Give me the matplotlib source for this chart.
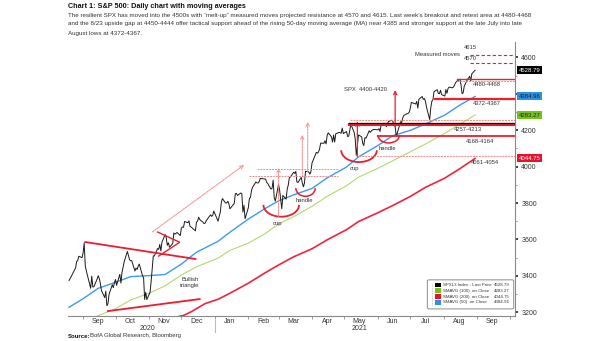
import pandas as pd
import matplotlib
matplotlib.use("Agg")
import matplotlib.pyplot as plt
import matplotlib.dates as mdates
from matplotlib.patches import Arc, FancyBboxPatch, Rectangle
from matplotlib import font_manager
from matplotlib.ticker import MultipleLocator, FuncFormatter

# ---------------- data ----------------
close_2020_08 = [3374.85, 3385.51, 3397.16, 3431.28, 3443.62, 3478.73, 3484.55, 3508.01, 3500.31]
close_2020_09 = [3526.65, 3580.84, 3455.06, 3426.96, 3331.84, 3398.96, 3339.19, 3340.97, 3383.54, 3401.20,
                 3385.49, 3357.01, 3319.47, 3281.06, 3315.57, 3236.92, 3246.59, 3298.46, 3351.60, 3335.47, 3363.00]
close_2020_10 = [3380.80, 3348.42, 3408.60, 3360.97, 3419.44, 3446.83, 3477.14, 3534.22, 3511.93, 3488.67,
                 3483.34, 3483.81, 3426.92, 3443.12, 3435.56, 3453.49, 3465.39, 3400.97, 3390.68, 3271.03,
                 3310.11, 3269.96]
close_2020_11 = [3310.24, 3369.16, 3443.44, 3510.45, 3509.44, 3550.50, 3545.53, 3572.66, 3537.01, 3585.15,
                 3626.91, 3609.53, 3567.79, 3581.87, 3557.54, 3577.59, 3635.41, 3629.65, 3638.35, 3621.63]
close_2020_12 = [3662.45, 3669.01, 3666.72, 3699.12, 3691.96, 3702.25, 3672.82, 3668.10, 3663.46, 3647.49,
                 3694.62, 3701.17, 3722.48, 3709.41, 3694.92, 3687.26, 3690.01, 3703.06, 3735.36, 3727.04,
                 3732.04, 3756.07]
close_2021_01 = [3700.65, 3726.86, 3748.14, 3803.79, 3824.68, 3799.61, 3801.19, 3809.84, 3795.54, 3768.25,
                 3798.91, 3851.85, 3853.07, 3841.47, 3855.36, 3849.62, 3750.77, 3787.38, 3714.24]
close_2021_02 = [3773.86, 3826.31, 3830.17, 3871.74, 3886.83, 3915.59, 3911.23, 3909.88, 3916.38, 3934.83,
                 3932.59, 3931.33, 3913.97, 3906.71, 3876.50, 3881.37, 3925.43, 3829.34, 3811.15]
close_2021_03 = [3901.82, 3870.29, 3819.72, 3768.47, 3841.94, 3821.35, 3875.44, 3898.81, 3939.34, 3943.34,
                 3968.94, 3962.71, 3974.12, 3915.46, 3913.10, 3940.59, 3910.52, 3889.14, 3909.52, 3974.54,
                 3971.09, 3958.55, 3972.89]
close_2021_04 = [4019.87, 4077.91, 4073.94, 4079.95, 4097.17, 4128.80, 4127.99, 4141.59, 4124.66, 4170.42,
                 4185.47, 4163.26, 4134.94, 4173.42, 4134.98, 4180.17, 4187.62, 4186.72, 4183.18, 4211.47,
                 4181.17]
close_2021_05 = [4192.66, 4164.66, 4167.59, 4201.62, 4232.60, 4188.43, 4152.10, 4063.04, 4112.50, 4173.85,
                 4163.29, 4127.83, 4115.68, 4159.12, 4155.86, 4197.05, 4188.13, 4195.99, 4200.88, 4204.11]
close_2021_06 = [4202.04, 4208.12, 4192.85, 4229.89, 4226.52, 4227.26, 4219.55, 4239.18, 4247.44, 4255.15,
                 4246.59, 4223.70, 4221.86, 4166.45, 4224.79, 4246.44, 4241.84, 4266.49, 4280.70, 4290.61,
                 4291.80, 4297.50]
close_2021_07 = [4319.94, 4352.34, 4343.54, 4358.13, 4320.82, 4369.55, 4384.63, 4369.21, 4374.30, 4360.03,
                 4327.16, 4258.49, 4323.06, 4358.69, 4367.48, 4411.79, 4422.30, 4401.46, 4400.64, 4419.15,
                 4395.26]
close_2021_08 = [4387.16, 4423.15, 4402.66, 4429.10, 4436.52, 4432.35, 4436.75, 4447.70, 4460.83, 4468.00,
                 4479.71, 4448.08, 4400.27, 4405.80, 4441.67, 4479.53, 4486.23, 4496.19, 4470.00, 4509.37,
                 4528.79]

market_holidays = ["2020-09-07", "2020-11-26", "2020-12-25", "2021-01-01", "2021-01-18",
                   "2021-02-15", "2021-04-02", "2021-05-31", "2021-07-05"]

ma50_dates = ["2020-08-19", "2020-09-01", "2020-09-15", "2020-10-01", "2020-10-15", "2020-11-02",
              "2020-11-16", "2020-12-01", "2020-12-15", "2021-01-04", "2021-01-15", "2021-02-01",
              "2021-02-16", "2021-03-01", "2021-03-15", "2021-04-01", "2021-04-15", "2021-05-03",
              "2021-05-14", "2021-06-01", "2021-06-15", "2021-07-01", "2021-07-15", "2021-08-02",
              "2021-08-16", "2021-08-30"]
ma50_values = [3228, 3275, 3332, 3365, 3396, 3402, 3408, 3465, 3530, 3590, 3640, 3712, 3768, 3812,
               3845, 3880, 3938, 3998, 4053, 4116, 4170, 4199, 4234, 4283, 4338, 4384.96]

ma100_dates = ["2020-08-19", "2020-09-01", "2020-09-15", "2020-10-01", "2020-10-15", "2020-11-02",
               "2020-11-16", "2020-12-01", "2020-12-15", "2021-01-04", "2021-01-15", "2021-02-01",
               "2021-02-16", "2021-03-01", "2021-03-15", "2021-04-01", "2021-04-15", "2021-05-03",
               "2021-05-14", "2021-06-01", "2021-06-15", "2021-07-01", "2021-07-15", "2021-08-02",
               "2021-08-16", "2021-08-30"]
ma100_values = [3115, 3150, 3182, 3220, 3268, 3307, 3346, 3405, 3450, 3498, 3540, 3580, 3630, 3685,
                3725, 3782, 3837, 3895, 3942, 3991, 4033, 4081, 4124, 4183, 4233, 4283.27]

ma200_dates = ["2020-11-16", "2020-12-03", "2020-12-10", "2020-12-23", "2021-01-04", "2021-01-15",
               "2021-02-01", "2021-02-16", "2021-03-01", "2021-03-15", "2021-04-01", "2021-04-15",
               "2021-05-03", "2021-05-14", "2021-06-01", "2021-06-15", "2021-07-01", "2021-07-15",
               "2021-08-02", "2021-08-16", "2021-08-30"]
ma200_values = [3160, 3183, 3203, 3248, 3272, 3305, 3360, 3415, 3460, 3505, 3549, 3598, 3654, 3698,
                3747, 3787, 3836, 3886, 3937, 3989, 4044.75]

last_price = 4528.79
ma50_last, ma100_last, ma200_last = 4384.96, 4283.27, 4044.75

# ---------------- style ----------------
installed = {f.name for f in font_manager.fontManager.ttflist}
NARROW = "Liberation Sans Narrow" if "Liberation Sans Narrow" in installed else "Liberation Sans"
plt.rcParams["font.family"] = [NARROW, "DejaVu Sans"]

RED = "#ee1c2e"
PINK = "#f48a8a"
BLUE = "#3d9be9"
GREEN = "#b2d96c"
MA200 = "#f0243c"
GREY = "#8a8a8a"
TXT = "#333333"

closes = (close_2020_08 + close_2020_09 + close_2020_10 + close_2020_11 + close_2020_12 +
          close_2021_01 + close_2021_02 + close_2021_03 + close_2021_04 + close_2021_05 +
          close_2021_06 + close_2021_07 + close_2021_08)
bday = pd.offsets.CustomBusinessDay(holidays=market_holidays)
trade_dates = pd.date_range("2020-08-19", "2021-08-30", freq=bday)
n = min(len(trade_dates), len(closes))

fig = plt.figure(figsize=(6.05, 3.41), dpi=100)
ax = fig.add_axes([68 / 605, 25 / 341, 447 / 605, 274 / 341])

D = lambda s: pd.Timestamp(s)
N = lambda s: mdates.date2num(pd.Timestamp(s))

# moving averages and price
ax.plot(pd.to_datetime(ma200_dates), ma200_values, color=MA200, lw=1.2, zorder=2)
ax.plot(pd.to_datetime(ma100_dates), ma100_values, color=GREEN, lw=0.8, zorder=2)
ax.plot(pd.to_datetime(ma50_dates), ma50_values, color=BLUE, lw=1.0, zorder=2)
ax.plot(trade_dates[:n], closes[:n], color="#1a1a1a", lw=0.7, zorder=3)

RIGHT = D("2021-10-06")

def hline(y, start, ls="-", lw=1.0, color=RED, z=4):
    ax.plot([D(start), RIGHT], [y, y], color=color, lw=lw, ls=ls, zorder=z)

def seg(x0, y0, x1, y1, color=RED, lw=1.3, ls="-"):
    ax.plot([D(x0), D(x1)], [y0, y1], color=color, lw=lw, ls=ls, zorder=4)

def arrow(x, y0, y1, color=RED, lw=0.8, ls="-"):
    ax.annotate("", xy=(D(x), y1), xytext=(D(x), y0),
                arrowprops=dict(arrowstyle="->", color=color, lw=lw, ls=ls,
                                shrinkA=0, shrinkB=0, mutation_scale=6), zorder=4)

def arc(x0, x1, y, depth, lw=1.3):
    c = (N(x0) + N(x1)) / 2
    ax.add_patch(Arc((c, y), N(x1) - N(x0), 2 * depth, theta1=180, theta2=360,
                     color=RED, lw=lw, zorder=4))

def note(x, y, s, ha="center"):
    ax.text(D(x), y, s, fontsize=4.2, color=TXT, ha=ha, va="center", zorder=5)

# bullish triangle
seg("2020-09-03", 3586, "2020-12-14", 3493)
seg("2020-09-24", 3207, "2020-12-18", 3273)
note("2020-12-09", 3378, "Bullish")
note("2020-12-09", 3345, "triangle")

# pennant
seg("2020-11-09", 3641, "2020-11-29", 3586, lw=1.0)
seg("2020-11-10", 3509, "2020-11-29", 3583, lw=1.0)

# trend channel arrow
ax.annotate("", xy=(D("2021-01-28"), 4009), xytext=(D("2020-11-04"), 3641),
            arrowprops=dict(arrowstyle="->", color=PINK, lw=0.7, ls=(0, (2, 1)),
                            shrinkA=0, shrinkB=0, mutation_scale=6), zorder=4)

# first cup and handle
arc("2021-02-15", "2021-03-20", 3790, 65)
arc("2021-03-17", "2021-04-04", 3882, 45, lw=1.1)
note("2021-02-28", 3690, "cup")
note("2021-03-25", 3812, "handle")
seg("2021-02-09", 3985, "2021-04-25", 3985, color=PINK, lw=0.7, ls=(0, (2, 1)))
seg("2021-02-02", 3950, "2021-04-25", 3950, color=PINK, lw=0.7, ls=(0, (2, 1)))
arrow("2021-03-01", 3725, 3992, color=PINK, lw=0.7, ls=(0, (2, 1)))
arrow("2021-03-23", 3943, 4174, color=PINK, lw=0.7, ls=(0, (2, 1)))
arrow("2021-03-28", 3970, 4245, color=PINK, lw=0.7, ls=(0, (2, 1)))

# second cup and handle
arc("2021-04-28", "2021-05-31", 4090, 65)
arc("2021-06-01", "2021-06-21", 4173, 43, lw=1.1)
note("2021-05-10", 3992, "cup")
note("2021-06-10", 4102, "handle")
hline(4256, "2021-05-06", ls=(0, (2, 1)), lw=0.7, color=PINK)
hline(4236, "2021-05-05", lw=2.2)
hline(4241, "2021-05-05", lw=0.9, color="#111111", z=5)
hline(4166, "2021-06-01", lw=1.3)
hline(4058, "2021-05-12", ls=(0, (2, 1)), lw=0.7, color=PINK)
arrow("2021-05-13", 4058, 4248, lw=0.9)
arrow("2021-06-17", 4240, 4420, lw=0.9)
note("2021-05-21", 4426, "SPX  4400-4420")

# recent support / resistance
hline(4370, "2021-07-24", lw=1.6)
hline(4480, "2021-08-13", lw=1.0)
hline(4468, "2021-08-13", ls=(0, (2, 1)), lw=0.7, color=PINK)
hline(4615, "2021-08-25", ls=(0, (3, 2)), lw=0.8)
hline(4570, "2021-08-25", ls=(0, (3, 2)), lw=0.8)
note("2021-07-26", 4613, "Measured moves")
note("2021-08-26", 4652, "4615")
note("2021-08-26", 4592, "4570")
note("2021-09-10", 4448, "4480-4468")
note("2021-09-10", 4349, "4372-4367")
note("2021-08-23", 4206, "4257-4213")
note("2021-09-04", 4140, "4168-4164")
note("2021-09-08", 4025, "4061-4054")

# ---------------- axes ----------------
ax.set_xlim(D("2020-08-18"), RIGHT)
ax.set_ylim(3180, 4684)
for side in ("top", "left"):
    ax.spines[side].set_visible(False)
ax.spines["right"].set_color(GREY)
ax.spines["right"].set_linewidth(0.8)
ax.spines["bottom"].set_color(GREY)
ax.spines["bottom"].set_linewidth(0.8)

# the 4400 label sits under the 50-day tag, so it is left blank
ax.yaxis.tick_right()
ax.yaxis.set_major_locator(MultipleLocator(200))
ax.yaxis.set_minor_locator(MultipleLocator(100))
ax.yaxis.set_major_formatter(FuncFormatter(lambda v, p: "" if round(v) == 4400 else f"{v:.0f}"))
ax.tick_params(axis="y", which="major", length=2.5, width=1.2, colors="#222222",
               labelsize=5, pad=2, labelcolor=TXT)
ax.tick_params(axis="y", which="minor", length=1.5, width=0.6, colors=GREY)

ax.xaxis.set_major_locator(mdates.MonthLocator(bymonthday=15))
ax.xaxis.set_major_formatter(mdates.DateFormatter("%b"))
ax.xaxis.set_minor_locator(mdates.MonthLocator())
ax.tick_params(axis="x", which="major", length=0, labelsize=5, pad=1.5, labelcolor=TXT)
ax.tick_params(axis="x", which="minor", length=2, width=0.6, colors=GREY)

xtr = ax.get_xaxis_transform()
ax.text(D("2020-10-31"), -0.046, "2020", transform=xtr, fontsize=5, ha="center", va="center", color=TXT)
ax.text(D("2021-05-15"), -0.046, "2021", transform=xtr, fontsize=5, ha="center", va="center", color=TXT)
ax.plot([D("2021-01-01")] * 2, [-0.015, -0.06], transform=xtr, color="#bbbbbb", lw=0.8, clip_on=False)

# value tags on the right axis
ytr = ax.get_yaxis_transform()
for val, face, fg in [(last_price, "#000000", "white"), (ma50_last, "#2f8fe0", "#10243a"),
                      (ma100_last, "#76c21d", "#1d2b0a"), (ma200_last, "#e8102a", "white")]:
    ax.text(1.008, val, f"{val:.2f}", transform=ytr, fontsize=4.3, color=fg, ha="left", va="center",
            bbox=dict(boxstyle="square,pad=0.25", fc=face, ec="none"), zorder=6, clip_on=False)

# legend panel
lx0, lx1, ly0, ly1 = 0.808, 0.993, 0.03, 0.128
ax.add_patch(FancyBboxPatch((lx0, ly0), lx1 - lx0, ly1 - ly0, transform=ax.transAxes,
                            boxstyle="round,pad=0.004", fc="white", ec="#9a9a9a", lw=0.8, zorder=6))
entries = [("SPXL3 Index - Last Price", last_price, "#000000"),
           ("SMAVG (100)  on Close", ma100_last, "#76c21d"),
           ("SMAVG (200)  on Close", ma200_last, "#e8102a"),
           ("SMAVG (50)  on Close", ma50_last, "#2f8fe0")]
for i, (lab, val, col) in enumerate(entries):
    yy = ly1 - 0.014 - i * 0.0215
    ax.add_patch(Rectangle((lx0 + 0.014, yy - 0.008), 0.012, 0.016, transform=ax.transAxes,
                           fc=col, ec="none", zorder=7))
    ax.text(lx0 + 0.031, yy, lab, transform=ax.transAxes, fontsize=3.2, color=TXT,
            va="center", ha="left", zorder=7)
    ax.text(lx1 - 0.005, yy, f"{val:.2f}", transform=ax.transAxes, fontsize=3.2, color=TXT,
            va="center", ha="right", zorder=7)
ax.plot([lx0 + 0.007] * 2, [ly0 + 0.01, ly1 - 0.01], transform=ax.transAxes, color="#bbbbbb",
        lw=0.6, ls=(0, (1, 1)), zorder=7)

# ---------------- titles ----------------
fig.text(68 / 605, 1 - 6 / 341, "Chart 1: S&P 500: Daily chart with moving averages",
         fontsize=5.2, fontweight="bold", color="#111111", va="center", ha="left")
sub = ["The resilient SPX has moved into the 4500s with \u201cmelt-up\u201d measured moves projected resistance at 4570 and 4615. Last week\u2019s breakout and retest area at 4480-4468",
       "and the 8/23 upside gap at 4450-4444 offer tactical support ahead of the rising 50-day moving average (MA) near 4385 and stronger support at the late July into late",
       "August lows at 4372-4367."]
for i, line in enumerate(sub):
    fig.text(68 / 605, 1 - (15 + 9.0 * i) / 341, line, fontsize=4.5, color=TXT, va="center", ha="left")

fig.text(68 / 605, 1 - 336 / 341, "Source:", fontsize=4.3, fontweight="bold", color="#111111",
         va="center", ha="left")
fig.text(90 / 605, 1 - 336 / 341, "BofA Global Research, Bloomberg", fontsize=4.3, color=TXT,
         va="center", ha="left")

fig.savefig("out.png", dpi=100)
